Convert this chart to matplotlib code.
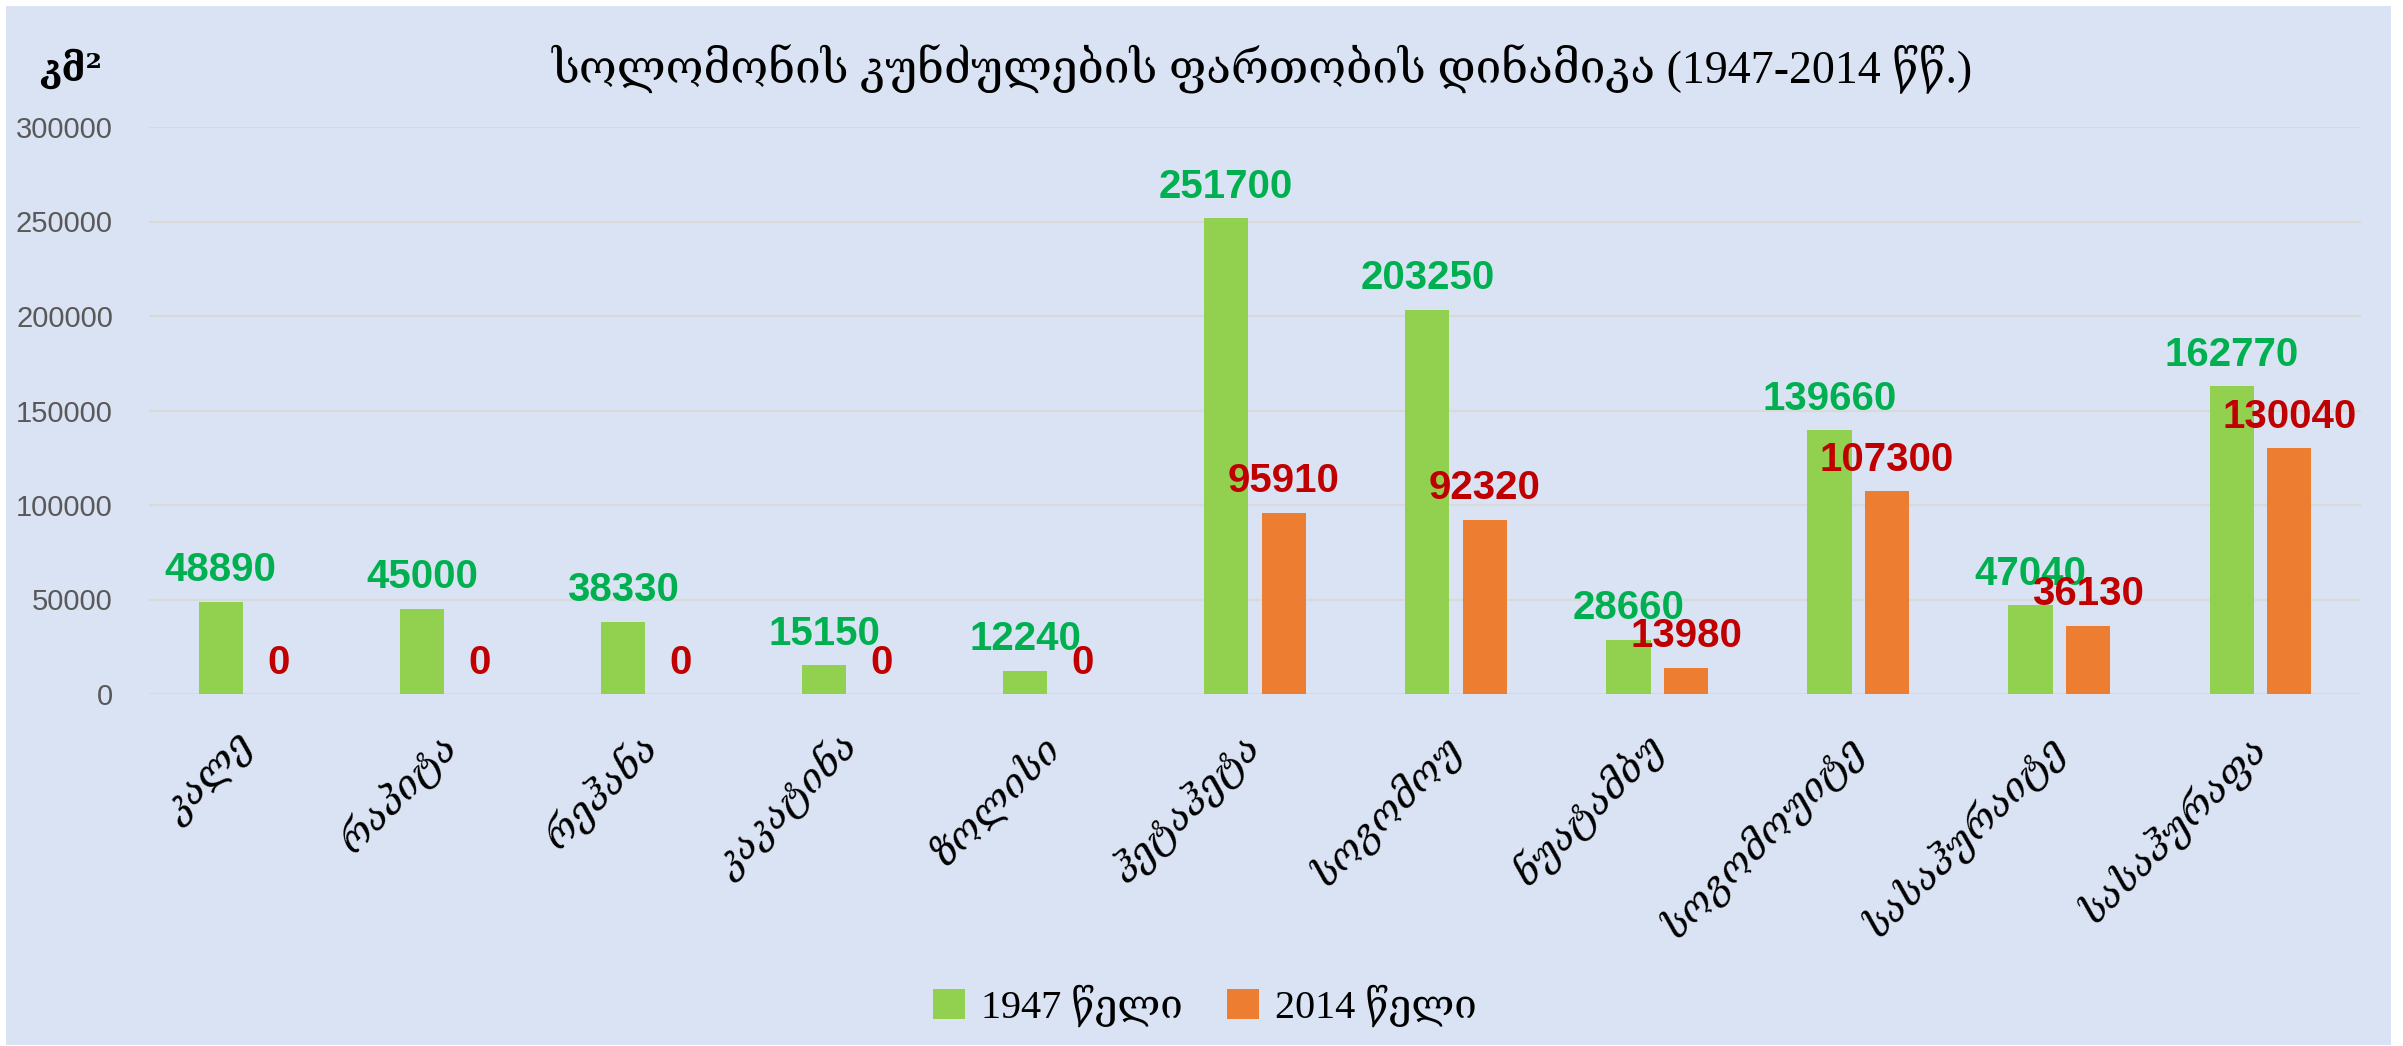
"""Solomon Islands area dynamics bar chart (1947 vs 2014)."""

from __future__ import annotations

import matplotlib

matplotlib.use("Agg")
import matplotlib.pyplot as plt
import numpy as np
from matplotlib.patches import Patch, Rectangle


OUTPUT_NAME = "out.png"

ISLANDS = [
    "კალე",
    "რაპიტა",
    "რეჰანა",
    "კაკატინა",
    "ზოლისი",
    "ჰეტაჰეტა",
    "სოგომოუ",
    "ნუატამბუ",
    "სოგომოუიტე",
    "სასაჰურაიტე",
    "სასაჰურაფა",
]
AREA_1947 = [48890, 45000, 38330, 15150, 12240, 251700, 203250, 28660, 139660, 47040, 162770]
AREA_2014 = [0, 0, 0, 0, 0, 95910, 92320, 13980, 107300, 36130, 130040]
SERIES_NAMES = ["1947 წელი", "2014 წელი"]
Y_TICKS = [0, 50000, 100000, 150000, 200000, 250000, 300000]

TITLE = "სოლომონის კუნძულების ფართობის დინამიკა (1947-2014 წწ.)"
UNIT_LABEL = "კმ²"

BG = "#DAE3F3"
GREEN_BAR = "#92D050"
ORANGE_BAR = "#ED7D31"
GREEN_TEXT = "#00B050"
RED_TEXT = "#C00000"

SERIF = ["Liberation Serif", "DejaVu Serif", "DejaVu Sans"]
SANS = ["Liberation Sans", "DejaVu Sans"]


def plot_chart(path: str) -> None:
    fig = plt.figure(figsize=(24.03, 10.46), dpi=100, facecolor="white")
    fig.patches.append(
        Rectangle((6 / 2403, 1 / 1046), (2391 - 6) / 2403, (1040 - 1) / 1046,
                  transform=fig.transFigure, facecolor=BG, edgecolor="none", zorder=-10)
    )
    ax = fig.add_axes([149 / 2403, 1 - 694 / 1046, (2361 - 149) / 2403, (694 - 127) / 1046])
    ax.patch.set_alpha(0)

    x = np.arange(len(ISLANDS))
    width = 0.22
    offset = 0.143
    bars_old = ax.bar(x - offset, AREA_1947, width, color=GREEN_BAR, zorder=3)
    bars_new = ax.bar(x + offset, AREA_2014, width, color=ORANGE_BAR, zorder=3)

    # value labels sit just above each bar, like the data labels in the original
    label_font = dict(family=SANS, weight="bold", fontsize=29)
    for bars, values, color in ((bars_old, AREA_1947, GREEN_TEXT), (bars_new, AREA_2014, RED_TEXT)):
        for rect, value in zip(bars, values):
            ax.annotate(str(value), (rect.get_x() + rect.get_width() / 2, value),
                        xytext=(0, 9), textcoords="offset points", ha="center", va="bottom",
                        color=color, zorder=5, **label_font)

    ax.set_xlim(-0.5, len(ISLANDS) - 0.5)
    ax.set_ylim(0, 300000)
    ax.set_yticks(Y_TICKS)
    ax.set_yticklabels([str(v) for v in Y_TICKS], family=SANS, fontsize=21, color="#595959")
    ax.yaxis.grid(True, color="#D9D9D9", linewidth=1.5, zorder=0)
    ax.set_axisbelow(True)
    ax.tick_params(axis="both", length=0)
    ax.tick_params(axis="y", pad=26)
    ax.tick_params(axis="x", pad=34)
    for side in ("top", "right", "left", "bottom"):
        ax.spines[side].set_visible(False)

    ax.set_xticks(x)
    ax.set_xticklabels(ISLANDS, rotation=45, ha="right", va="center",
                       rotation_mode="anchor", family=SERIF, style="italic",
                       fontsize=28, color="black")

    fig.text(1262 / 2403, 1 - 69 / 1046, TITLE, ha="center", va="center",
             family=SERIF, fontsize=33, color="black")
    fig.text(71 / 2403, 1 - 69 / 1046, UNIT_LABEL, ha="center", va="center",
             family=["DejaVu Serif", "DejaVu Sans"], fontsize=27, weight="bold", color="black")

    handles = [Patch(facecolor=GREEN_BAR), Patch(facecolor=ORANGE_BAR)]
    fig.legend(handles, SERIES_NAMES, loc="center", bbox_to_anchor=(1205 / 2403, 1 - 1006 / 1046),
               ncol=2, frameon=False, handlelength=0.8, handleheight=0.8, handletextpad=0.4,
               columnspacing=1.1, prop=dict(family=SERIF, size=29))

    fig.savefig(path, dpi=100, facecolor=fig.get_facecolor())
    plt.close(fig)


def main() -> int:
    plot_chart(OUTPUT_NAME)
    return 0


if __name__ == "__main__":
    raise SystemExit(main())
